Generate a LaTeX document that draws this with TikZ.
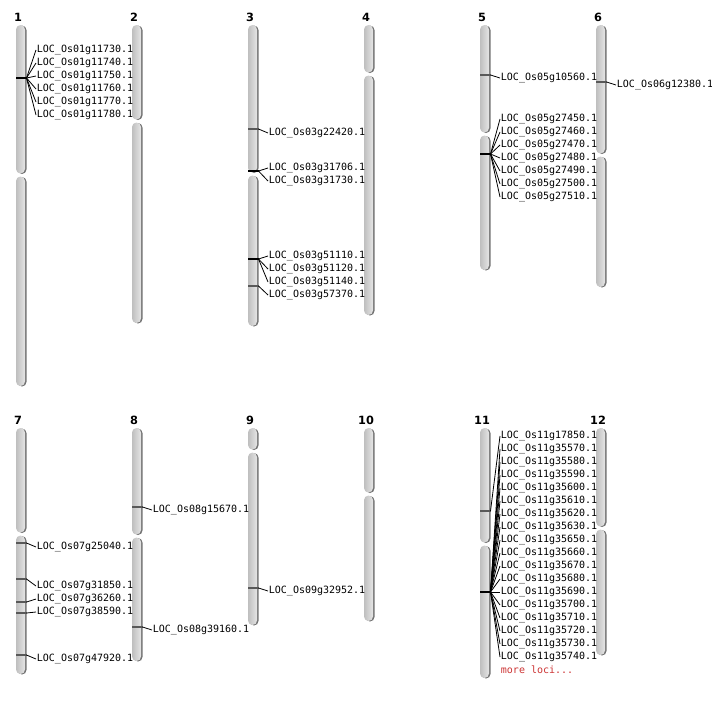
\documentclass[tikz,border=0pt]{standalone}
\usepackage{fontspec}
\setmainfont{DejaVu Sans}
\setmonofont{DejaVu Sans Mono}
\usetikzlibrary{calc}
\definecolor{armfill}{HTML}{D4D4D4}
\definecolor{armedge}{HTML}{737373}
\definecolor{moreloci}{HTML}{CC3333}
\tikzset{
  arm/.style={left color=armfill!90!black,right color=armfill!60!white,rounded corners=3.4pt},
  armshadow/.style={fill=armedge,rounded corners=3.4pt},
  chrnum/.style={font=\fontsize{8.5}{10}\selectfont\bfseries,inner sep=0pt},
  locus/.style={font=\fontsize{7.5}{9}\selectfont\ttfamily,anchor=west,inner sep=0.5pt,yshift=-1.5pt},
  thinmark/.style={line width=0.9pt,black!65},
  bigmark/.style={line width=1.6pt,black},
  link/.style={line width=0.6pt,black}
}

\begin{document}
\begin{tikzpicture}[x=0.75pt,y=-0.75pt]
\useasboundingbox (0,0) rectangle (712,700);
% chromosomes: number/left/top/centromere/bottom
\foreach \n/\bx/\t/\c/\b in {1/16/25/175/386, 2/132/25/121/323, 3/248/25/174/326,
    4/364/25/74/315, 5/480/25/134/270, 6/596/25/155/287,
    7/16/428/534/674, 8/132/428/536/661, 9/248/428/451/625,
    10/364/428/494/621, 11/480/428/544/678, 12/596/428/528/655} {
  \fill[armshadow] (\bx+1.5,\t+0.5) rectangle (\bx+10.5,\c-1);
  \fill[armshadow] (\bx+1.5,\c+2) rectangle (\bx+10.5,\b+0.5);
  \shade[arm] (\bx,\t) rectangle (\bx+9,\c-1.5);
  \shade[arm] (\bx,\c+1.5) rectangle (\bx+9,\b);
  \node[chrnum] (chr\n) at (\bx+2,\t-7.5) {\n};
}

% chromosome 1
\coordinate (c1a) at (26.5,78);
\draw[bigmark] (16,78) -- (c1a);
\foreach \g [count=\i from 0] in {11730,11740,11750,11760,11770,11780} {
  \node[locus] (L01g\g) at (36,48+13*\i) {LOC\_Os01g\g.1};
  \draw[link] (c1a) -- (L01g\g.west);
}

% chromosome 3
\coordinate (c3a) at (258.5,129);
\coordinate (c3b) at (258.5,171);
\coordinate (c3c) at (258.5,259);
\coordinate (c3d) at (258.5,286);
\draw[thinmark] (248,129) -- (c3a);
\draw[bigmark] (248,171) -- (c3b);
\draw[bigmark] (248,259) -- (c3c);
\draw[thinmark] (248,286) -- (c3d);
\node[locus] (L03g22420) at (268,131) {LOC\_Os03g22420.1};
\node[locus] (L03g31706) at (268,166) {LOC\_Os03g31706.1};
\node[locus] (L03g31730) at (268,179) {LOC\_Os03g31730.1};
\node[locus] (L03g51110) at (268,254) {LOC\_Os03g51110.1};
\node[locus] (L03g51120) at (268,267) {LOC\_Os03g51120.1};
\node[locus] (L03g51140) at (268,280) {LOC\_Os03g51140.1};
\node[locus] (L03g57370) at (268,293) {LOC\_Os03g57370.1};
\draw[link] (c3a) -- (L03g22420.west);
\draw[link] (c3b) -- (L03g31706.west);
\draw[link] (c3b) -- (L03g31730.west);
\draw[link] (c3c) -- (L03g51110.west);
\draw[link] (c3c) -- (L03g51120.west);
\draw[link] (c3c) -- (L03g51140.west);
\draw[link] (c3d) -- (L03g57370.west);

% chromosome 5
\coordinate (c5a) at (490.5,75);
\coordinate (c5b) at (490.5,154);
\draw[thinmark] (480,75) -- (c5a);
\draw[bigmark] (480,154) -- (c5b);
\node[locus] (L05g10560) at (500,76) {LOC\_Os05g10560.1};
\draw[link] (c5a) -- (L05g10560.west);
\foreach \g [count=\i from 0] in {27450,27460,27470,27480,27490,27500,27510} {
  \node[locus] (L05g\g) at (500,117+13*\i) {LOC\_Os05g\g.1};
  \draw[link] (c5b) -- (L05g\g.west);
}

% chromosome 6
\coordinate (c6a) at (606.5,82);
\draw[thinmark] (596,82) -- (c6a);
\node[locus] (L06g12380) at (616,83) {LOC\_Os06g12380.1};
\draw[link] (c6a) -- (L06g12380.west);

% chromosome 7
\foreach \g/\m/\y in {25040/543/545, 31850/579/584, 36260/602/597,
    38590/613/610, 47920/655/657} {
  \coordinate (c7\g) at (26.5,\m);
  \draw[thinmark] (16,\m) -- (c7\g);
  \node[locus] (L07g\g) at (36,\y) {LOC\_Os07g\g.1};
  \draw[link] (c7\g) -- (L07g\g.west);
}

% chromosome 8
\foreach \g/\m/\y in {15670/507/508, 39160/627/628} {
  \coordinate (c8\g) at (142.5,\m);
  \draw[thinmark] (132,\m) -- (c8\g);
  \node[locus] (L08g\g) at (152,\y) {LOC\_Os08g\g.1};
  \draw[link] (c8\g) -- (L08g\g.west);
}

% chromosome 9
\coordinate (c9a) at (258.5,588);
\draw[thinmark] (248,588) -- (c9a);
\node[locus] (L09g32952) at (268,589) {LOC\_Os09g32952.1};
\draw[link] (c9a) -- (L09g32952.west);

% chromosome 11
\coordinate (c11a) at (490.5,511);
\coordinate (c11b) at (490.5,592);
\draw[thinmark] (480,511) -- (c11a);
\draw[bigmark] (480,592) -- (c11b);
\node[locus] (L11g17850) at (500,434) {LOC\_Os11g17850.1};
\draw[link] (c11a) -- (L11g17850.west);
\foreach \g [count=\i from 0] in {35570,35580,35590,35600,35610,35620,35630,35650,
    35660,35670,35680,35690,35700,35710,35720,35730,35740} {
  \node[locus] (L11g\g) at (500,447+13*\i) {LOC\_Os11g\g.1};
  \draw[link] (c11b) -- (L11g\g.west);
}
\node[locus,text=moreloci] (more11) at (500,668) {more loci...};
\end{tikzpicture}
\end{document}
